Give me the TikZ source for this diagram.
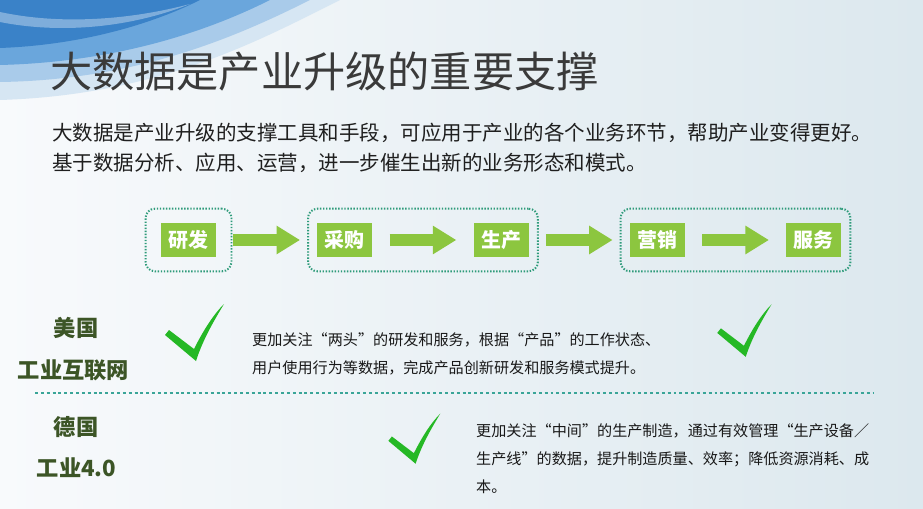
\documentclass[tikz,border=0pt]{standalone}
\usepackage{fontspec}
\setmainfont{Noto Sans CJK SC}
\usetikzlibrary{positioning,arrows.meta,fit}

\definecolor{stagegreen}{HTML}{8CC63F}
\definecolor{dotteal}{HTML}{2E9B7A}
\definecolor{tickgreen}{HTML}{25B825}
\definecolor{labelolive}{HTML}{3C5526}
\definecolor{titlegray}{HTML}{3A3A3A}
\definecolor{bgleft}{HTML}{F8FAFC}
\definecolor{bgright}{HTML}{DCE8EE}
\definecolor{wavedark}{HTML}{3A82C8}
\definecolor{wavemid}{HTML}{6AA6DC}
\definecolor{wavelight}{HTML}{A9CBEA}
\definecolor{wavepale}{HTML}{D6E6F3}
\definecolor{ruleteal}{HTML}{3AA598}

\tikzset{
  stagebox/.style={fill=stagegreen, text=white, minimum width=47pt, minimum height=29pt,
    inner sep=0pt, font=\fontsize{17}{20}\selectfont\bfseries},
  groupbox/.style={draw=dotteal, line width=1.7pt, dash pattern=on 1.2pt off 1.4pt,
    rounded corners=8pt, inner ysep=12pt, inner xsep=7.7pt},
  flowarrow/.style={draw=stagegreen, line width=11pt, -{Triangle[length=20pt,width=23pt]},
    shorten <=14.5pt, shorten >=14.5pt},
  countrylabel/.style={text=labelolive, inner sep=0pt, font=\fontsize{19}{22}\selectfont\bfseries},
  desctext/.style={anchor=west, align=left, inner sep=0pt, text=black!90,
    font=\fontsize{12.9}{24}\selectfont\addfontfeatures{RawFeature=+fwid}},
  okmark/.pic={
    \fill[tickgreen] (-28,-24) -- (-24,-29) -- (1,-10)
      .. controls (10,-28) and (20,-44) .. (31,-55)
      .. controls (22,-40) and (10,-20) .. (3,2) -- cycle;
  }
}

\begin{document}
\begin{tikzpicture}[x=0.03cm,y=-0.03cm]
\useasboundingbox (0,0) rectangle (923,509);
% background and wave
\shade[left color=bgleft, right color=bgright] (0,0) rectangle (923,509);
\fill[wavepale] (0,0) -- (340,0) .. controls (260,40) and (160,95) .. (0,100) -- cycle;
\fill[wavelight] (0,0) -- (310,0) .. controls (240,35) and (140,80) .. (0,82) -- cycle;
\fill[wavemid] (0,0) -- (270,0) .. controls (210,30) and (120,62) .. (0,65) -- cycle;
\fill[wavedark] (0,0) -- (200,0) .. controls (150,25) and (80,45) .. (0,48) -- cycle;
\fill[white, opacity=0.35] (0,12) .. controls (60,25) and (130,20) .. (190,4)
  .. controls (130,28) and (60,34) .. (0,22) -- cycle;

% heading
\node[anchor=west, inner sep=0pt, text=titlegray, font=\fontsize{36}{40}\selectfont] (title) at (50,72) {大数据是产业升级的重要支撑};
\node[anchor=west, align=left, inner sep=0pt, text=black!88, font=\fontsize{17.5}{25.6}\selectfont] (intro) at (52,148)
  {大数据是产业升级的支撑工具和手段，可应用于产业的各个业务环节，帮助产业变得更好。\\
   基于数据分析、应用、运营，进一步催生出新的业务形态和模式。};

% value chain
\node[stagebox] (rd) at (188.5,240) {研发};
\node[stagebox, right=86pt of rd] (buy) {采购};
\node[stagebox, right=86pt of buy] (make) {生产};
\node[stagebox, right=86pt of make] (sell) {营销};
\node[stagebox, right=86pt of sell] (serve) {服务};
\node[groupbox, fit=(rd), inner xsep=13pt] (grp1) {};
\node[groupbox, fit=(buy)(make)] (grp2) {};
\node[groupbox, fit=(sell)(serve)] (grp3) {};
\draw[flowarrow] (rd) -- (buy);
\draw[flowarrow] (buy) -- (make);
\draw[flowarrow] (make) -- (sell);
\draw[flowarrow] (sell) -- (serve);

% USA
\node[countrylabel] (us) at (76,328) {美国};
\node[countrylabel] (usnet) at (73.5,370) {工业互联网};
\pic at (193,359) {okmark};
\node[desctext] (usdesc) at (252,354)
  {更加关注“两头”的研发和服务，根据“产品”的工作状态、\\
   用户使用行为等数据，完成产品创新研发和服务模式提升。};
\pic[scale=0.92] at (743,355) {okmark};

\draw[ruleteal, line width=0.9pt, dash pattern=on 2.5pt off 2.5pt] (35,393) -- (873,393);

% Germany
\node[countrylabel] (de) at (76,427) {德国};
\node[countrylabel] (de40) at (76.5,468) {工业4.0};
\pic[scale=0.88] at (413,462) {okmark};
\node[desctext] (dedesc) at (476,458.5)
  {更加关注“中间”的生产制造，通过有效管理“生产设备/\\
   生产线”的数据，提升制造质量、效率；降低资源消耗、成\\
   本。};
\end{tikzpicture}
\end{document}
